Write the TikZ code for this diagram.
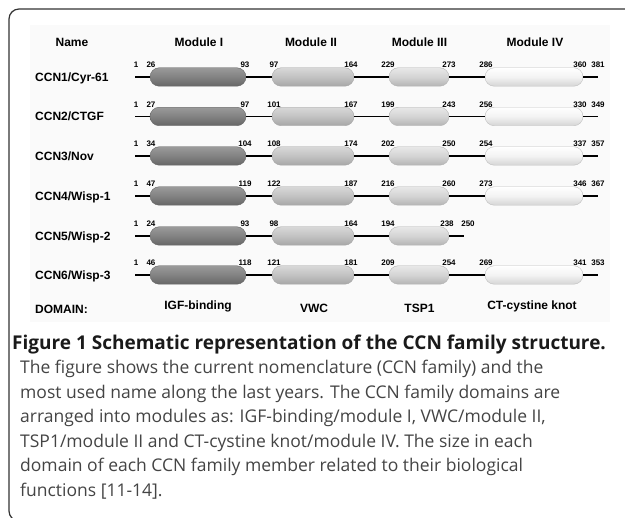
\documentclass[tikz,border=0pt]{standalone}
\usepackage{fontspec}
\setmainfont{Liberation Sans}
\newfontfamily\capfont{Open Sans}
\usetikzlibrary{shapes.misc}
\definecolor{framec}{HTML}{333333}
\definecolor{bgc}{HTML}{FAFAFA}
\definecolor{bodyc}{HTML}{444444}
\definecolor{headc}{HTML}{1A1A1A}
\definecolor{aTop}{HTML}{9A9A9A}\definecolor{aMid}{HTML}{828282}\definecolor{aBot}{HTML}{666666}
\definecolor{bTop}{HTML}{D8D8D8}\definecolor{bMid}{HTML}{C2C2C2}\definecolor{bBot}{HTML}{A6A6A6}
\definecolor{cTop}{HTML}{E8E8E8}\definecolor{cMid}{HTML}{D4D4D4}\definecolor{cBot}{HTML}{B4B4B4}
\definecolor{dTop}{HTML}{FFFFFF}\definecolor{dMid}{HTML}{F3F3F3}\definecolor{dBot}{HTML}{D4D4D4}
\begin{document}
\begin{tikzpicture}[x=1pt,y=-1pt,
  pill/.style={rounded rectangle, minimum height=18.5pt, inner sep=0pt},
  modA/.style={pill, minimum width=96pt, draw=aBot, top color=aTop, bottom color=aBot, middle color=aMid},
  modB/.style={pill, minimum width=82pt, draw=bBot, top color=bTop, bottom color=bBot, middle color=bMid},
  modC/.style={pill, minimum width=60pt, draw=cBot, top color=cTop, bottom color=cBot, middle color=cMid},
  modD/.style={pill, minimum width=98pt, draw=dBot!90!black, top color=dTop, bottom color=dBot, middle color=dMid},
  chain/.style={line width=1.5pt, black},
  numlab/.style={font=\bfseries\fontsize{8}{9}\selectfont, anchor=base, inner sep=0pt},
  rowname/.style={font=\bfseries\fontsize{12}{14}\selectfont, anchor=base west, inner sep=0pt},
  headlab/.style={font=\bfseries\fontsize{12}{14}\selectfont, anchor=base, inner sep=0pt},
  caphead/.style={font=\capfont\bfseries\fontsize{19}{22}\selectfont, text=headc, anchor=base west, inner sep=0pt},
  capbody/.style={font=\capfont\fontsize{17.5}{21}\selectfont, text=bodyc, anchor=base west, inner sep=0pt},
  framestyle/.style={draw=framec, line width=1.2pt, rounded corners=10pt}]
\useasboundingbox (0,0) rectangle (625,518);
\fill[white] (0,0) rectangle (625,518);
\fill[bgc] (30,25) rectangle (610,322);
\draw[framestyle] (640,9) -- (9,9) -- (9,521) -- (60,521);
% header
\node[headlab] (hName) at (72,46.5) {Name};
\node[headlab] (hI) at (199,46.5) {Module I};
\node[headlab] (hII) at (311,46.5) {Module II};
\node[headlab] (hIII) at (419.5,46.5) {Module III};
\node[headlab] (hIV) at (535,46.5) {Module IV};
% full rows
\foreach \i/\y/\nm/\la/\lb/\lc/\ld/\le/\lf/\lg/\lh/\lk in {
  1/77/CCN1\slash Cyr-61/26/93/97/164/229/273/286/360/381,
  2/116.5/CCN2\slash CTGF/27/97/101/167/199/243/256/330/349,
  3/156/CCN3\slash Nov/34/104/108/174/202/250/254/337/357,
  4/196/CCN4\slash Wisp-1/47/119/122/187/216/260/273/346/367,
  6/275/CCN6\slash Wisp-3/46/118/121/181/209/254/269/341/353}{
  \node[rowname] (name\i) at (35,\y+4.4) {\nm};
  \coordinate (s\i) at (135,\y);
  \coordinate (e\i) at (598,\y);
  \node[modA] (a\i) at (198,\y) {};
  \node[modB] (b\i) at (313,\y) {};
  \node[modC] (c\i) at (419,\y) {};
  \node[modD] (d\i) at (534,\y) {};
  \draw[chain] (s\i) -- (a\i.west);
  \draw[chain] (a\i.east) -- (b\i.west);
  \draw[chain] (b\i.east) -- (c\i.west);
  \draw[chain] (c\i.east) -- (d\i.west);
  \draw[chain] (d\i.east) -- (e\i);
  \node[numlab] (n1-\i) at (136,\y-9) {1};
  \node[numlab] (na-\i) at (151,\y-9) {\la};
  \node[numlab] (nb-\i) at (245,\y-9) {\lb};
  \node[numlab] (nc-\i) at (274,\y-9) {\lc};
  \node[numlab] (nd-\i) at (351,\y-9) {\ld};
  \node[numlab] (ne-\i) at (388,\y-9) {\le};
  \node[numlab] (nf-\i) at (449,\y-9) {\lf};
  \node[numlab] (ng-\i) at (486,\y-9) {\lg};
  \node[numlab] (nh-\i) at (580,\y-9) {\lh};
  \node[numlab] (nk-\i) at (598,\y-9) {\lk};
}
% row 5
\node[rowname] (name5) at (35,236+4.4) {CCN5/Wisp-2};
\coordinate (s5) at (135,236);
\coordinate (e5) at (464,236);
\node[modA] (a5) at (198,236) {};
\node[modB] (b5) at (313,236) {};
\node[modC] (c5) at (419,236) {};
\draw[chain] (s5) -- (a5.west);
\draw[chain] (a5.east) -- (b5.west);
\draw[chain] (b5.east) -- (c5.west);
\draw[chain] (c5.east) -- (e5);
\node[numlab] (n1-5) at (136,227) {1};
\node[numlab] (na-5) at (151,227) {24};
\node[numlab] (nb-5) at (245,227) {93};
\node[numlab] (nc-5) at (274,227) {98};
\node[numlab] (nd-5) at (351,227) {164};
\node[numlab] (ne-5) at (388,227) {194};
\node[numlab] (nf-5) at (447,227) {238};
\node[numlab] (ng-5) at (468,227) {250};
% domain row
\node[rowname] (dom) at (35,313.5) {DOMAIN:};
\node[headlab] (dI) at (198,310) {IGF-binding};
\node[headlab] (dII) at (314,312.5) {VWC};
\node[headlab] (dIII) at (419.5,312.5) {TSP1};
\node[headlab] (dIV) at (532,310) {CT-cystine knot};
% caption
\node[caphead] (cap0) at (12,350) {Figure 1 Schematic representation of the CCN family structure.};
\node[capbody] (cap1) at (20,374) {The figure shows the current nomenclature (CCN family) and the};
\node[capbody] (cap2) at (20,398.5) {most used name along the last years. The CCN family domains are};
\node[capbody] (cap3) at (20,423) {arranged into modules as: IGF-binding/module I, VWC/module II,};
\node[capbody] (cap4) at (20,447.5) {TSP1/module II and CT-cystine knot/module IV. The size in each};
\node[capbody] (cap5) at (20,472) {domain of each CCN family member related to their biological};
\node[capbody] (cap6) at (20,496.5) {functions [11-14].};
\end{tikzpicture}
\end{document}
